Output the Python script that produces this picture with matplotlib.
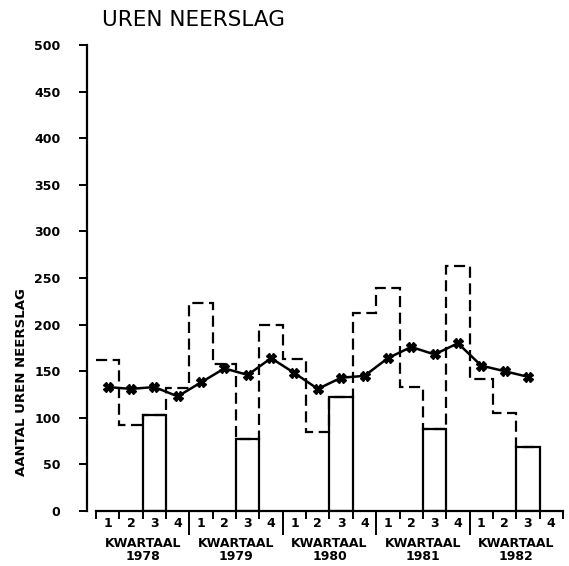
import matplotlib
matplotlib.use("Agg")
import matplotlib.pyplot as plt

years = ["1978", "1979", "1980", "1981", "1982"]
quarter_labels = ["1", "2", "3", "4"] * 5
# hours of precipitation per quarter (1978 Q1 .. 1982 Q3)
quarter_hours = [162, 92, 103, 132, 223, 158, 77, 200, 163, 85, 122, 212,
                 239, 133, 88, 263, 142, 105, 69]
# third quarter highlighted as solid bars
q3_index = [2, 6, 10, 14, 18]
# moving average (stars)
avg_hours = [133, 131, 133, 123, 138, 153, 146, 164, 148, 131, 143, 145,
             164, 176, 168, 180, 156, 150, 144]

n_q = len(quarter_labels)

fig = plt.figure(figsize=(5.69, 5.66), dpi=100)
ax = fig.add_axes([87 / 569, 55 / 566, 479 / 569, 466 / 566])
ax.set_xlim(-0.385, n_q + 0.13)
ax.set_ylim(0, 500)

# dashed step line of all quarters
edges = list(range(len(quarter_hours) + 1))
ax.stairs(quarter_hours, edges, baseline=None, color="black",
          linestyle=(0, (5, 2.5)), linewidth=1.6)

# solid bars for third quarters
ax.bar(q3_index, [quarter_hours[i] for i in q3_index], width=1, align="edge",
       fill=False, edgecolor="black", linewidth=1.6)

# moving average
centers = [i + 0.5 for i in range(len(avg_hours))]
ax.plot(centers, avg_hours, color="black", linewidth=1.8, marker="X",
        markersize=7, markerfacecolor="black")

for s in ["top", "right"]:
    ax.spines[s].set_visible(False)
ax.spines["left"].set_bounds(0, 500)
ax.spines["bottom"].set_bounds(0, n_q)
ax.spines["left"].set_linewidth(1.6)
ax.spines["bottom"].set_linewidth(1.6)

ax.set_yticks(range(0, 501, 50))
ax.tick_params(axis="y", length=6, width=1.4, pad=13, labelsize=9)
for t in ax.get_yticklabels():
    t.set_fontweight("bold")

ax.set_xticks(range(n_q + 1), [""] * (n_q + 1))
ax.tick_params(axis="x", which="major", length=6, width=1.4)
ax.set_xticks([i + 0.5 for i in range(n_q)], quarter_labels, minor=True)
ax.tick_params(axis="x", which="minor", length=0, pad=4, labelsize=9)
for t in ax.get_xticklabels(minor=True):
    t.set_fontweight("bold")

# longer separators between years
trans = ax.get_xaxis_transform()
ax.vlines([4 * k for k in range(1, len(years))], -0.052, 0, transform=trans,
          color="black", linewidth=1.4, clip_on=False)
for k, yr in enumerate(years):
    ax.text(4 * k + 2, -0.055, "KWARTAAL\n" + yr, transform=trans,
            ha="center", va="top", fontsize=9, fontweight="bold",
            linespacing=1.0)

fig.text(102 / 569, 1 - 20 / 566, "UREN NEERSLAG", ha="left", va="center",
         fontsize=15.5)
fig.text(22 / 569, 1 - 382 / 566, "AANTAL UREN NEERSLAG", rotation=90,
         ha="center", va="center", fontsize=9.5, fontweight="bold")

fig.savefig("out.png", dpi=100)
